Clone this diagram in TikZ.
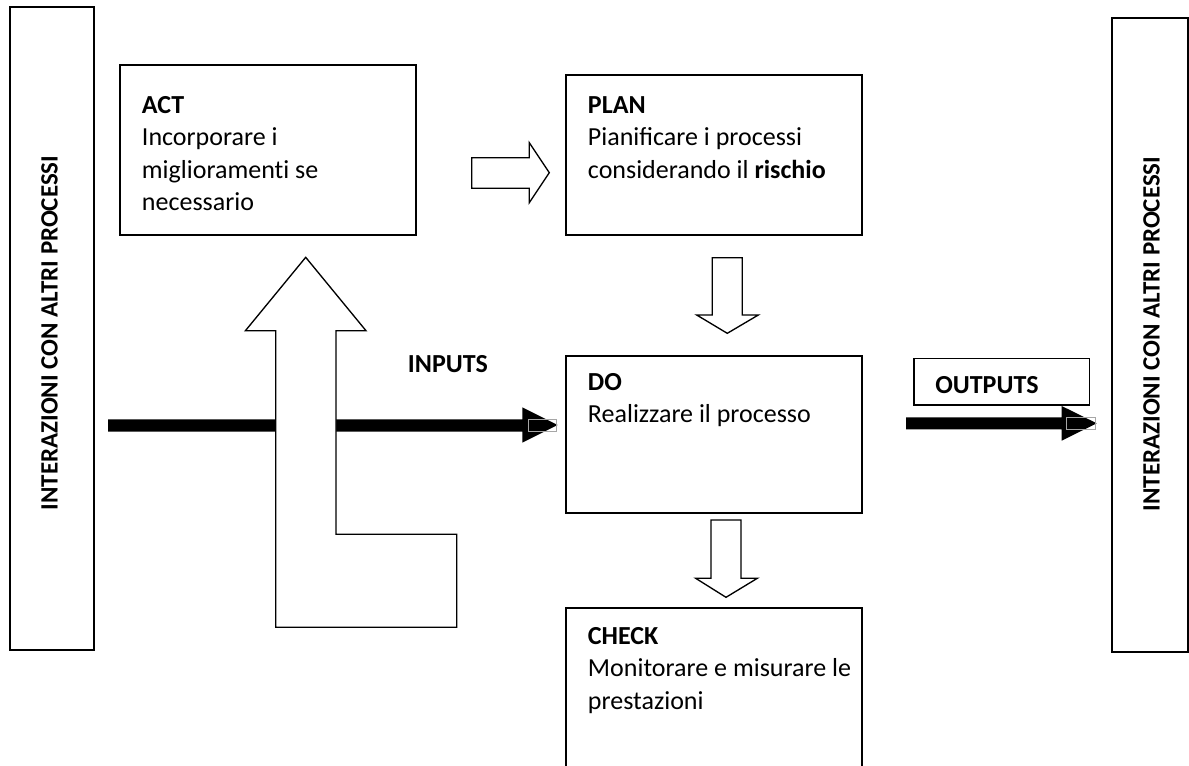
\documentclass[tikz,border=0pt]{standalone}
\usepackage{fontspec}
\setmainfont{Carlito}
\begin{document}
\begin{tikzpicture}[x=0.75pt,y=-0.75pt,
  box/.style={draw, line width=1.1pt, inner sep=0pt, fill=white},
  txt/.style={inner sep=0pt, anchor=base west, font=\fontsize{19.5}{24}\selectfont},
  vtxt/.style={inner sep=0pt, rotate=90, font=\fontsize{18.7}{24}\selectfont\bfseries},
  hollow/.style={draw, fill=white, line width=1pt, line join=miter},
  solid/.style={fill=black, draw=none},
  ghost/.style={draw=gray!70, line width=0.6pt}]
\useasboundingbox (0,0) rectangle (1189,765);
\clip (0,0) rectangle (1189,765);

% side boxes
\node[box, minimum width=63pt, minimum height=482.25pt] (left) at (52,328.5) {};
\node[vtxt] (leftT) at (49.5,333) {INTERAZIONI CON ALTRI PROCESSI};
\node[box, minimum width=57pt, minimum height=475.5pt] (right) at (1150,335) {};
\node[vtxt] (rightT) at (1151.5,334) {INTERAZIONI CON ALTRI PROCESSI};

% main boxes
\node[box, minimum width=222pt, minimum height=127.5pt] (act) at (268,150) {};
\node[box, minimum width=222pt, minimum height=120pt] (plan) at (714,155) {};
\node[box, minimum width=222pt, minimum height=117.75pt] (do) at (714,434.5) {};
\node[box, minimum width=222pt, minimum height=129pt] (check) at (714,694) {};

% ACT text
\node[txt] (act0) at (141.7,113.3) {\textbf{ACT}};
\node[txt] (act1) at (141.7,145.8) {Incorporare i};
\node[txt] (act2) at (141.7,178.1) {migliorament\kern0pt i se};
\node[txt] (act3) at (141.7,210.4) {necessario};
% PLAN text
\node[txt] (plan0) at (587.7,113.3) {\textbf{PLAN}};
\node[txt] (plan1) at (587.7,145.8) {Pianificare i processi};
\node[txt] (plan2) at (587.7,178.1) {considerando il \textbf{rischio}};
% DO text
\node[txt] (do0) at (587.7,390.5) {\textbf{DO}};
\node[txt] (do1) at (587.7,422.8) {Realizzare il processo};
% CHECK text
\node[txt] (check0) at (587.7,644.4) {\textbf{CHECK}};
\node[txt] (check1) at (587.7,676.7) {Monitorare e misurare le};
\node[txt] (check2) at (587.7,709) {prestazioni};

% inputs label
\node[txt] (inputs) at (407.7,372.3) {\textbf{INPUTS}};

% input thick arrow
\fill[solid] (108,419.3) -- (522.3,419.3) -- (522.3,407.3) -- (557.7,425)
  -- (522.3,442.7) -- (522.3,431.7) -- (108,431.7) -- cycle;
\draw[ghost] (528,419.3) rectangle (556,431.7);

% big up arrow (ACT feedback)
\draw[hollow] (305.7,257.3) -- (366,330.7) -- (336,330.7) -- (336,534.3)
  -- (456.7,534.3) -- (456.7,627.3) -- (275.7,627.3) -- (275.7,330.7)
  -- (245.4,330.7) -- cycle;

% ACT -> PLAN
\draw[hollow] (471.7,157.7) -- (529.3,157.7) -- (529.3,142.7) -- (549.3,172.7)
  -- (529.3,202.7) -- (529.3,188.3) -- (471.7,188.3) -- cycle;
% PLAN -> DO
\draw[hollow] (712.3,257.7) -- (742.3,257.7) -- (742.3,315) -- (758.3,315)
  -- (727.3,333.3) -- (696.7,315) -- (712.3,315) -- cycle;
% DO -> CHECK
\draw[hollow] (711,520) -- (741,520) -- (741,578.3) -- (757.3,578.3)
  -- (726,597.3) -- (695.7,578.3) -- (711,578.3) -- cycle;

% outputs
\node[box, line width=1pt, minimum width=131.5pt, minimum height=35pt] (outbox) at (1001.7,381.7) {};
\node[txt] (outputs) at (935,393.3) {\textbf{OUTPUTS}};
\fill[solid] (906,417.3) -- (1061.7,417.3) -- (1061.7,406) -- (1096.7,423.3)
  -- (1061.7,440.7) -- (1061.7,429.3) -- (906,429.3) -- cycle;
\draw[ghost] (1066.7,417.3) rectangle (1095,429.3);
\end{tikzpicture}
\end{document}
